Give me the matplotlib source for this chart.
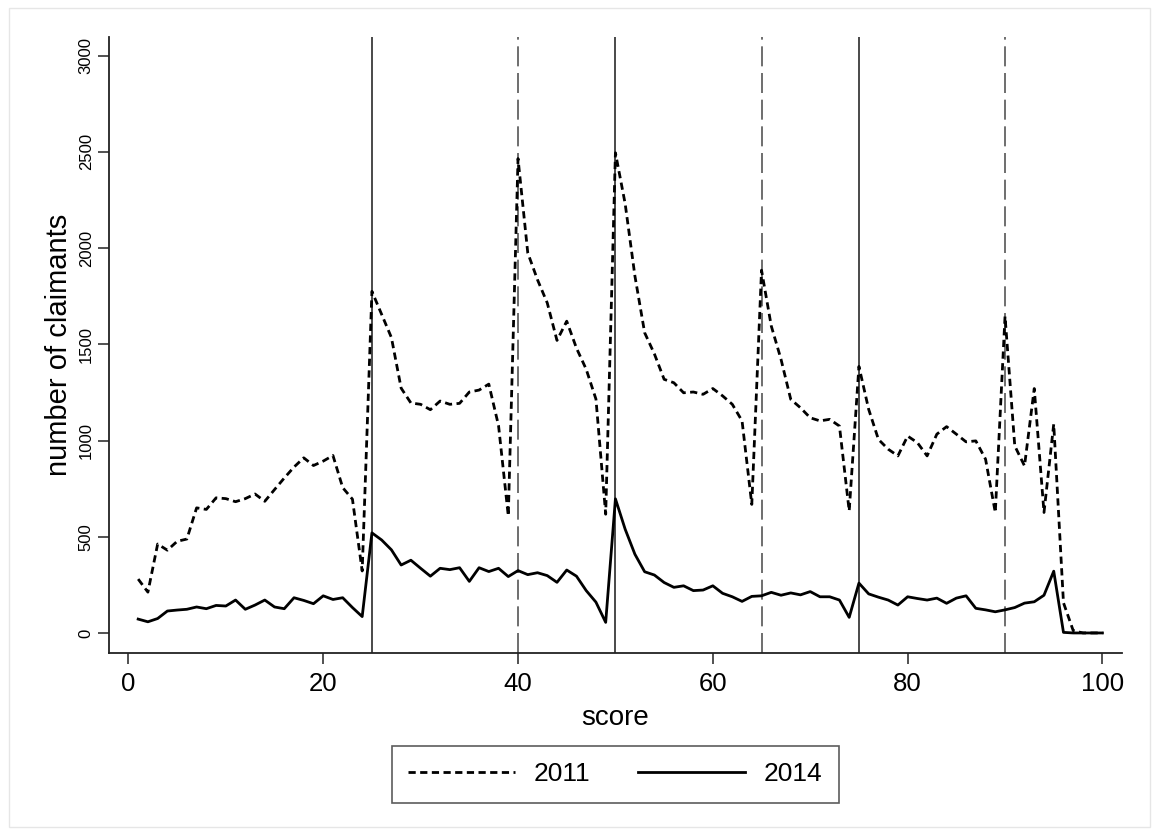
import matplotlib
matplotlib.use('Agg')
import matplotlib.pyplot as plt
from matplotlib.patches import Rectangle

plt.rcParams['font.family'] = ['Liberation Sans', 'DejaVu Sans']

# Data
score = list(range(1, 101))

claimants_2011 = [
    280, 212, 462, 430, 476, 488, 650, 642, 702, 698,
    682, 698, 722, 684, 745, 805, 862, 910, 870, 893,
    922, 755, 695, 322, 1775, 1655, 1535, 1272, 1195, 1188,
    1160, 1205, 1188, 1193, 1252, 1262, 1293, 1077, 608, 2465,
    1975, 1835, 1715, 1520, 1620, 1480, 1370, 1215, 617, 2495,
    2230, 1855, 1560, 1450, 1318, 1300, 1248, 1252, 1240, 1270,
    1232, 1188, 1102, 668, 1885, 1595, 1422, 1214, 1170, 1118,
    1102, 1110, 1075, 634, 1385, 1162, 1006, 955, 920, 1023,
    989, 920, 1033, 1072, 1033, 993, 998, 903, 626, 1645,
    972, 868, 1270, 626, 1085, 157, 12, 0, 0, 0,
]

claimants_2014 = [
    72, 58, 75, 114, 119, 123, 135, 126, 143, 140,
    171, 123, 145, 171, 135, 126, 183, 169, 152, 193,
    174, 183, 132, 85, 520, 483, 432, 353, 378, 336,
    295, 336, 329, 339, 268, 339, 319, 336, 293, 324,
    303, 313, 298, 263, 327, 295, 220, 160, 55, 697,
    539, 409, 318, 301, 262, 237, 245, 220, 223, 245,
    206, 188, 164, 190, 193, 211, 196, 208, 198, 215,
    188, 188, 171, 81, 259, 203, 186, 171, 145, 188,
    179, 171, 181, 154, 181, 193, 128, 120, 110, 120,
    132, 155, 162, 196, 321, 3, 0, 0, 0, 0,
]

solid_cutoffs = [25, 50, 75]
dashed_cutoffs = [40, 65, 90]

fig = plt.figure(figsize=(11.59, 8.35), dpi=100)
ax = fig.add_axes([0.094, 0.218, 0.874, 0.738])

# threshold lines
for c in solid_cutoffs:
    ax.axvline(c, color='#3a3a3a', lw=1.3, zorder=1)
for c in dashed_cutoffs:
    ax.axvline(c, color='#555555', lw=1.2, dashes=(12, 4), zorder=1)

ax.plot(score, claimants_2011, color='black', lw=2.0, dashes=(2.6, 1.6), label='2011', zorder=3)
ax.plot(score, claimants_2014, color='black', lw=2.0, label='2014', zorder=3)

ax.set_xlim(-2, 102)
ax.set_ylim(-104, 3098)
ax.set_xticks([0, 20, 40, 60, 80, 100])
ax.set_yticks([0, 500, 1000, 1500, 2000, 2500, 3000])

ax.spines['top'].set_visible(False)
ax.spines['right'].set_visible(False)
for s in ['left', 'bottom']:
    ax.spines[s].set_linewidth(1.3)
    ax.spines[s].set_color('#222222')

ax.tick_params(axis='x', labelsize=18.5, length=8, width=1.2, color='#333333', pad=6)
ax.tick_params(axis='y', labelsize=12, length=8, width=1.2, color='#333333', pad=3)
plt.setp(ax.get_yticklabels(), rotation=90, va='center')

ax.set_xlabel('score', fontsize=20, labelpad=6)
ax.set_ylabel('number of claimants', fontsize=21, labelpad=4)

leg = ax.legend(loc='upper center', bbox_to_anchor=(0.5, -0.151), borderaxespad=0,
                ncol=2, fontsize=19, frameon=True, fancybox=False, handlelength=4.05,
                columnspacing=1.8, borderpad=0.62, handletextpad=0.72)
leg.get_frame().set_edgecolor('#333333')
leg.get_frame().set_linewidth(1.2)

# faint border around the graph region
fig.patches.append(Rectangle((0.008, 0.01), 0.984, 0.98, transform=fig.transFigure,
                             fill=False, edgecolor='#e6e6e6', lw=1.0))

plt.savefig('out.png', dpi=100)
